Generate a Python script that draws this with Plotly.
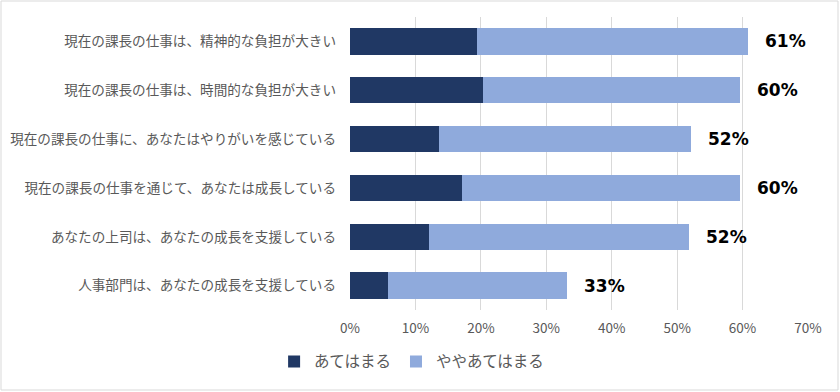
import plotly.graph_objects as go

categories = [
    "現在の課長の仕事は、精神的な負担が大きい",
    "現在の課長の仕事は、時間的な負担が大きい",
    "現在の課長の仕事に、あなたはやりがいを感じている",
    "現在の課長の仕事を通じて、あなたは成長している",
    "あなたの上司は、あなたの成長を支援している",
    "人事部門は、あなたの成長を支援している",
]
series_names = ["あてはまる", "ややあてはまる"]
atehamaru = [19.4, 20.3, 13.6, 17.1, 12.1, 5.8]
yaya_atehamaru = [41.5, 39.3, 38.5, 42.5, 39.7, 27.4]
x_ticks = [0, 10, 20, 30, 40, 50, 60, 70]
x_tick_labels = ["0%", "10%", "20%", "30%", "40%", "50%", "60%", "70%"]

totals = [a + b for a, b in zip(atehamaru, yaya_atehamaru)]

FONT = "Noto Sans CJK JP"
W, H = 840, 392
L, R, T, B = 350, 32, 17, 82

fig = go.Figure()
fig.add_trace(go.Bar(
    y=categories, x=atehamaru, name=series_names[0], orientation="h",
    marker=dict(color="#203864", line=dict(width=0)), width=0.54,
))
fig.add_trace(go.Bar(
    y=categories, x=yaya_atehamaru, name=series_names[1], orientation="h",
    marker=dict(color="#8FAADC", line=dict(width=0)), width=0.54,
))

for cat, tot in zip(categories, totals):
    fig.add_annotation(
        x=tot, y=cat, text=f"<b>{tot:.0f}%</b>", showarrow=False,
        xanchor="left", yanchor="middle", xshift=15,
        font=dict(family="DejaVu Sans", size=17, color="#000000"),
    )

# outer chart border
pw = W - L - R
ph = H - T - B
fig.add_shape(
    type="rect", xref="paper", yref="paper",
    x0=(1 - L) / pw, x1=(W - 2 - L) / pw,
    y0=-(B - 2) / ph, y1=(H - 1 - B) / ph,
    line=dict(color="#d9d9d9", width=1), fillcolor="rgba(0,0,0,0)", layer="below",
)

fig.update_layout(
    width=W, height=H,
    margin=dict(l=L, r=R, t=T, b=B, autoexpand=False),
    barmode="stack",
    plot_bgcolor="white", paper_bgcolor="white",
    font=dict(family=FONT, size=13, color="#595959"),
    xaxis=dict(
        range=[0, 70], tickvals=x_ticks, ticktext=x_tick_labels,
        showgrid=True, gridcolor="#d9d9d9", gridwidth=1,
        zeroline=False, showline=False, ticks="",
        ticklabelstandoff=8, automargin=False,
        tickfont=dict(family=FONT, size=13.5, color="#595959"),
    ),
    yaxis=dict(
        categoryorder="array", categoryarray=categories, autorange="reversed",
        showgrid=False, zeroline=False, showline=False, ticks="",
        ticklabelstandoff=13, automargin=False,
        tickfont=dict(family=FONT, size=13.6, color="#595959"),
    ),
    legend=dict(
        orientation="h", xref="container", yref="container",
        x=0.49, y=0.077, xanchor="center", yanchor="middle",
        font=dict(family=FONT, size=15.5, color="#595959"),
        traceorder="normal", itemwidth=30,
    ),
    showlegend=True,
)

fig.write_html(
    "out.html",
    config={"displayModeBar": False},
    post_script="document.body.style.margin='0';document.body.style.overflow='hidden';",
)
